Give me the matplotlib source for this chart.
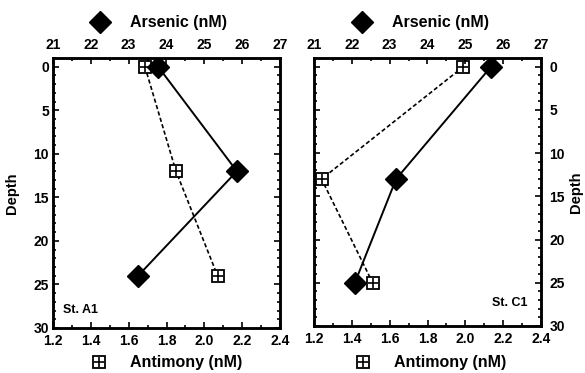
import matplotlib
matplotlib.use("Agg")
import matplotlib.pyplot as plt
from matplotlib.ticker import MultipleLocator

plt.rcParams['font.family'] = ['Liberation Sans', 'DejaVu Sans']
plt.rcParams['font.weight'] = 'bold'

# Data
depth_a1 = [0, 12, 24]
arsenic_a1 = [23.78, 25.86, 23.25]
antimony_a1 = [1.686, 1.85, 2.07]

depth_c1 = [0, 13, 25]
arsenic_c1 = [25.68, 23.17, 22.08]
antimony_c1 = [1.99, 1.24, 1.51]

stations = ["St. A1", "St. C1"]
arsenic_ticks = [21, 22, 23, 24, 25, 26, 27]
antimony_ticks = [1.2, 1.4, 1.6, 1.8, 2.0, 2.2, 2.4]
depth_ticks = [0, 5, 10, 15, 20, 25, 30]

W, H = 585, 373
fig = plt.figure(figsize=(W / 100, H / 100), dpi=100)

def fx(px):
    return px / W

def fy(py):
    return 1 - py / H

panels = [
    dict(box=[fx(53), fy(328), fx(280) - fx(53), fy(58) - fy(328)],
         depth=depth_a1, ars=arsenic_a1, ant=antimony_a1, label=stations[0], right=False),
    dict(box=[fx(314), fy(326), fx(541) - fx(314), fy(58) - fy(326)],
         depth=depth_c1, ars=arsenic_c1, ant=antimony_c1, label=stations[1], right=True),
]

tick_fs = 10
for p in panels:
    ax = fig.add_axes(p['box'])
    ax.set_xlim(1.2, 2.4)
    ax.set_ylim(30, -1)
    ax.set_xticks(antimony_ticks)
    ax.set_xticklabels([f"{t:.1f}" for t in antimony_ticks], fontsize=tick_fs, fontweight='bold')
    ax.set_yticks(depth_ticks)
    ax.set_yticklabels([str(t) for t in depth_ticks], fontsize=tick_fs, fontweight='bold')
    ax.xaxis.set_minor_locator(MultipleLocator(0.1))
    ax.yaxis.set_minor_locator(MultipleLocator(1))
    ax.tick_params(which='both', direction='in', top=False, right=True, left=True, width=1.2)
    ax.tick_params(which='major', length=4, pad=3)
    ax.tick_params(axis='x', which='major', pad=4)
    ax.tick_params(which='minor', length=2)
    for s in ax.spines.values():
        s.set_linewidth(1.8)
    if p['right']:
        ax.yaxis.tick_right()
        ax.tick_params(which='both', left=True, right=True, labelleft=False, labelright=True)
        ax.tick_params(axis='y', which='major', pad=6)
        ax.yaxis.set_label_position('right')
        ax.set_ylabel("Depth", fontsize=10.5, fontweight='bold', rotation=90, labelpad=3)
        ax.text(0.94, 0.086, p['label'], transform=ax.transAxes, ha='right', va='center',
                fontsize=9, fontweight='bold')
    else:
        ax.set_ylabel("Depth", fontsize=10.5, fontweight='bold', labelpad=10)
        ax.text(0.045, 0.067, p['label'], transform=ax.transAxes, ha='left', va='center',
                fontsize=9, fontweight='bold')

    # antimony (bottom axis)
    ax.plot(p['ant'], p['depth'], color='black', ls=(0, (2.5, 1.5)), lw=1.2, zorder=2)
    ax.plot(p['ant'], p['depth'], ls='none', marker='s', ms=8, mfc='white', mec='black',
            mew=1.3, zorder=3)
    ax.plot(p['ant'], p['depth'], ls='none', marker='+', ms=7, mec='black', mew=1.2, zorder=4)

    # arsenic (top axis)
    ax2 = ax.twiny()
    ax2.set_xlim(21, 27)
    ax2.set_xticks(arsenic_ticks)
    ax2.set_xticklabels([str(t) for t in arsenic_ticks], fontsize=tick_fs, fontweight='bold')
    ax2.xaxis.set_minor_locator(MultipleLocator(0.5))
    ax2.tick_params(which='both', direction='in', width=1.2)
    ax2.tick_params(which='major', length=4, pad=4)
    ax2.tick_params(which='minor', length=2)
    for s in ax2.spines.values():
        s.set_linewidth(1.8)
    ax2.plot(p['ars'], p['depth'], color='black', lw=1.4, marker='D', ms=11,
             mfc='black', mec='black', zorder=5)

# header legends
for cx, tx in [(100, 130), (362, 392)]:
    fig.lines.append(plt.Line2D([fx(cx)], [fy(22)], transform=fig.transFigure, marker='D',
                                ms=11, color='black', ls='none'))
    fig.text(fx(tx), fy(22), "Arsenic (nM)", ha='left', va='center', fontsize=11.5, fontweight='bold')
for cx, tx in [(99, 130), (363, 394)]:
    fig.lines.append(plt.Line2D([fx(cx)], [fy(362)], transform=fig.transFigure, marker='s',
                                ms=8, mfc='white', mec='black', mew=1.3, ls='none'))
    fig.lines.append(plt.Line2D([fx(cx)], [fy(362)], transform=fig.transFigure, marker='+',
                                ms=7, mec='black', mew=1.2, ls='none'))
    fig.text(fx(tx), fy(362), "Antimony (nM)", ha='left', va='center', fontsize=11.5, fontweight='bold')

fig.savefig("out.png", dpi=100)
